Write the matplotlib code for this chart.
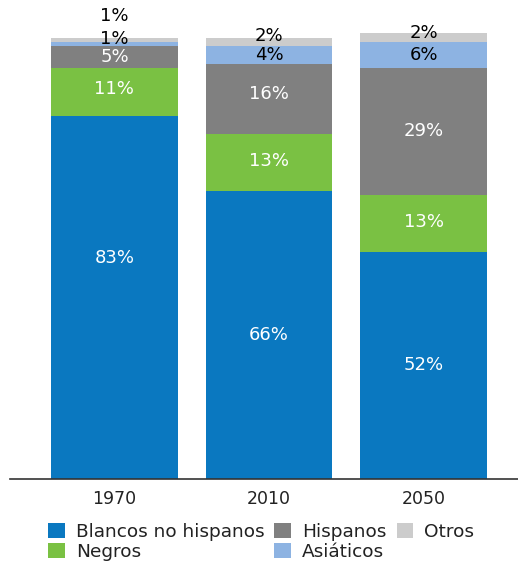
import matplotlib
matplotlib.use("Agg")
import matplotlib.pyplot as plt
import numpy as np

years = ["1970", "2010", "2050"]
series = ["Blancos no hispanos", "Negros", "Hispanos", "Asiáticos", "Otros"]
blancos = [83, 66, 52]
negros = [11, 13, 13]
hispanos = [5, 16, 29]
asiaticos = [1, 4, 6]
otros = [1, 2, 2]

values = [blancos, negros, hispanos, asiaticos, otros]
colors = ["#0A78C0", "#7AC143", "#808080", "#8DB3E2", "#CCCCCC"]
text_colors = ["white", "white", "white", "black", "black"]
# label nudges in pixels (upwards), per series, per bar
label_dy = [[40, 0, 0], [3, 1, 1], [0, 5, 1], [5, 0, 0], [24, 6, 5]]

plt.rcParams['font.family'] = ['DejaVu Sans']

W, H = 518, 563
fig = plt.figure(figsize=(W / 100, H / 100), dpi=100)
ax = fig.add_axes([10 / W, (H - 479) / H, 508 / W, 479 / H])

x = np.arange(len(years))
bottom = np.zeros(len(years))
for si, (name, vals, col, tcol) in enumerate(zip(series, values, colors, text_colors)):
    vals = np.array(vals, dtype=float)
    ax.bar(x, vals, bottom=bottom, width=0.82, color=col, label=name, zorder=2)
    for i in range(len(years)):
        v = vals[i]
        c = tcol if v > 1 else "black"
        ax.annotate(f"{int(v)}%", xy=(x[i], bottom[i] + v / 2),
                    xytext=(0, label_dy[si][i] * 0.72), textcoords="offset points",
                    ha="center", va="center", color=c, fontsize=13, zorder=3)
    bottom += vals

ax.set_ylim(0, 109.6)
ax.set_xlim(-0.675, 2.61)
for s in ["top", "right", "left"]:
    ax.spines[s].set_visible(False)
ax.spines["bottom"].set_color("#333333")
ax.spines["bottom"].set_linewidth(1.2)
ax.set_yticks([])
ax.set_xticks(x)
ax.set_xticklabels(years, fontsize=12.5, color="#222222")
ax.tick_params(axis="x", length=0, pad=8)

handles, labels = ax.get_legend_handles_labels()
leg = fig.legend(handles, labels, ncol=3, loc="upper left",
                 bbox_to_anchor=(48 / W, 1 - 523 / H), frameon=False,
                 fontsize=13.3, handlelength=0.9, handleheight=0.9,
                 handletextpad=0.6, columnspacing=0.55, labelspacing=0.08,
                 borderaxespad=0, borderpad=0)
for t in leg.get_texts():
    t.set_color("#222222")

fig.savefig("out.png", dpi=100)
